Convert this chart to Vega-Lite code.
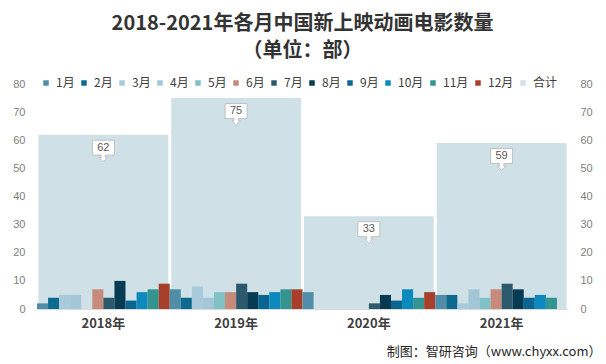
{
  "$schema": "https://vega.github.io/schema/vega-lite/v6.json",
  "width": 531,
  "height": 225,
  "autosize": "none",
  "padding": {"left": 37, "top": 84, "right": 38, "bottom": 55},
  "background": "white",
  "title": {
    "text": ["2018-2021年各月中国新上映动画电影数量", "（单位：部）"],
    "font": "Noto Sans CJK SC",
    "fontSize": 20,
    "fontWeight": "bold",
    "color": "#333333",
    "lineHeight": 27,
    "anchor": "middle",
    "frame": "group",
    "offset": 16
  },
  "config": {
    "view": {"stroke": null},
    "font": "Noto Sans CJK SC"
  },
  "data": {
    "values": [
      {"year": "2018年", "series": "1月", "value": 2},
      {"year": "2018年", "series": "2月", "value": 4},
      {"year": "2018年", "series": "3月", "value": 5},
      {"year": "2018年", "series": "4月", "value": 5},
      {"year": "2018年", "series": "5月", "value": 0},
      {"year": "2018年", "series": "6月", "value": 7},
      {"year": "2018年", "series": "7月", "value": 4},
      {"year": "2018年", "series": "8月", "value": 10},
      {"year": "2018年", "series": "9月", "value": 3},
      {"year": "2018年", "series": "10月", "value": 6},
      {"year": "2018年", "series": "11月", "value": 7},
      {"year": "2018年", "series": "12月", "value": 9},
      {"year": "2018年", "series": "合计", "value": 62},
      {"year": "2019年", "series": "1月", "value": 7},
      {"year": "2019年", "series": "2月", "value": 4},
      {"year": "2019年", "series": "3月", "value": 8},
      {"year": "2019年", "series": "4月", "value": 4},
      {"year": "2019年", "series": "5月", "value": 6},
      {"year": "2019年", "series": "6月", "value": 6},
      {"year": "2019年", "series": "7月", "value": 9},
      {"year": "2019年", "series": "8月", "value": 6},
      {"year": "2019年", "series": "9月", "value": 5},
      {"year": "2019年", "series": "10月", "value": 6},
      {"year": "2019年", "series": "11月", "value": 7},
      {"year": "2019年", "series": "12月", "value": 7},
      {"year": "2019年", "series": "合计", "value": 75},
      {"year": "2020年", "series": "1月", "value": 6},
      {"year": "2020年", "series": "2月", "value": 0},
      {"year": "2020年", "series": "3月", "value": 0},
      {"year": "2020年", "series": "4月", "value": 0},
      {"year": "2020年", "series": "5月", "value": 0},
      {"year": "2020年", "series": "6月", "value": 0},
      {"year": "2020年", "series": "7月", "value": 2},
      {"year": "2020年", "series": "8月", "value": 5},
      {"year": "2020年", "series": "9月", "value": 3},
      {"year": "2020年", "series": "10月", "value": 7},
      {"year": "2020年", "series": "11月", "value": 4},
      {"year": "2020年", "series": "12月", "value": 6},
      {"year": "2020年", "series": "合计", "value": 33},
      {"year": "2021年", "series": "1月", "value": 5},
      {"year": "2021年", "series": "2月", "value": 5},
      {"year": "2021年", "series": "3月", "value": 2},
      {"year": "2021年", "series": "4月", "value": 7},
      {"year": "2021年", "series": "5月", "value": 4},
      {"year": "2021年", "series": "6月", "value": 7},
      {"year": "2021年", "series": "7月", "value": 9},
      {"year": "2021年", "series": "8月", "value": 7},
      {"year": "2021年", "series": "9月", "value": 4},
      {"year": "2021年", "series": "10月", "value": 5},
      {"year": "2021年", "series": "11月", "value": 4},
      {"year": "2021年", "series": "12月", "value": 0},
      {"year": "2021年", "series": "合计", "value": 59}
    ]
  },
  "encoding": {
    "x": {
      "field": "year",
      "type": "nominal",
      "scale": {"paddingInner": 0, "paddingOuter": 0},
      "axis": {
        "title": "制图：智研咨询（www.chyxx.com）",
        "titleFont": "Noto Sans CJK SC",
        "titleFontSize": 13,
        "titleFontWeight": "normal",
        "titleColor": "#262626",
        "titleAnchor": "end",
        "titleAlign": "right",
        "titleBaseline": "middle",
        "titleX": 564,
        "titleY": 42,
        "labelAngle": 0,
        "labelFont": "Noto Sans CJK SC",
        "labelFontSize": 13,
        "labelFontWeight": "bold",
        "labelColor": "#404040",
        "labelPadding": 8,
        "ticks": false,
        "domainColor": "#D9D9D9",
        "domainWidth": 1
      }
    }
  },
  "layer": [
    {
      "transform": [{"filter": "datum.series === '合计'"}],
      "mark": {"type": "bar", "width": {"band": 0.978}},
      "encoding": {
        "y": {
          "field": "value",
          "type": "quantitative",
          "scale": {"domain": [0, 80]},
          "axis": {
            "orient": "right",
            "title": null,
            "values": [0, 10, 20, 30, 40, 50, 60, 70, 80],
            "grid": false,
            "domain": false,
            "ticks": false,
            "labelPadding": 12,
            "labelFont": "Liberation Sans",
            "labelFontSize": 11,
            "labelColor": "#808080"
          }
        },
        "color": {
          "field": "series",
          "type": "nominal",
          "scale": {
            "domain": ["1月", "2月", "3月", "4月", "5月", "6月", "7月", "8月", "9月", "10月", "11月", "12月", "合计"],
            "range": ["#4F8DA8", "#0B6A8E", "#A9CADA", "#A4C7D8", "#80C1C6", "#C88A7A", "#2D596C", "#073B54", "#0B6591", "#0C89BD", "#339490", "#A6402A", "#CFE1E7"]
          },
          "legend": {
            "orient": "none",
            "legendX": 3,
            "legendY": -7,
            "direction": "horizontal",
            "columns": 13,
            "title": null,
            "symbolType": "square",
            "symbolSize": 30,
            "symbolStrokeWidth": 0,
            "labelFont": "Noto Sans CJK SC",
            "labelFontSize": 12,
            "labelColor": "#404040",
            "labelOffset": 4,
            "columnPadding": 3
          }
        }
      }
    },
    {
      "transform": [{"filter": "datum.series !== '合计'"}],
      "mark": {"type": "bar"},
      "encoding": {
        "xOffset": {
          "field": "series",
          "type": "nominal",
          "sort": ["1月", "2月", "3月", "4月", "5月", "6月", "7月", "8月", "9月", "10月", "11月", "12月"],
          "scale": {"paddingInner": 0, "paddingOuter": 0}
        },
        "y": {
          "field": "value",
          "type": "quantitative",
          "scale": {"domain": [0, 80]},
          "axis": {
            "orient": "left",
            "title": null,
            "values": [0, 10, 20, 30, 40, 50, 60, 70, 80],
            "grid": false,
            "domain": false,
            "ticks": false,
            "labelPadding": 12,
            "labelFont": "Liberation Sans",
            "labelFontSize": 11,
            "labelColor": "#808080"
          }
        },
        "color": {"field": "series", "type": "nominal"}
      }
    },
    {
      "transform": [{"filter": "datum.series === '合计'"}],
      "mark": {
        "type": "point",
        "shape": "M-1,-0.68H1V0.68H0.2V0.9H0.38L0,1.3L-0.38,0.9H-0.2V0.68H-1Z",
        "size": 484,
        "filled": true,
        "fill": "white",
        "stroke": "#BFBFBF",
        "strokeWidth": 1,
        "opacity": 1,
        "yOffset": 13
      },
      "encoding": {
        "y": {"field": "value", "type": "quantitative", "scale": {"domain": [0, 80]}, "axis": null}
      }
    },
    {
      "transform": [{"filter": "datum.series === '合计'"}],
      "mark": {
        "type": "text",
        "yOffset": 13,
        "baseline": "middle",
        "align": "center",
        "font": "Liberation Sans",
        "fontSize": 11,
        "color": "#595959"
      },
      "encoding": {
        "y": {"field": "value", "type": "quantitative", "scale": {"domain": [0, 80]}, "axis": null},
        "text": {"field": "value", "type": "quantitative"}
      }
    }
  ],
  "resolve": {"scale": {"y": "independent"}}
}
